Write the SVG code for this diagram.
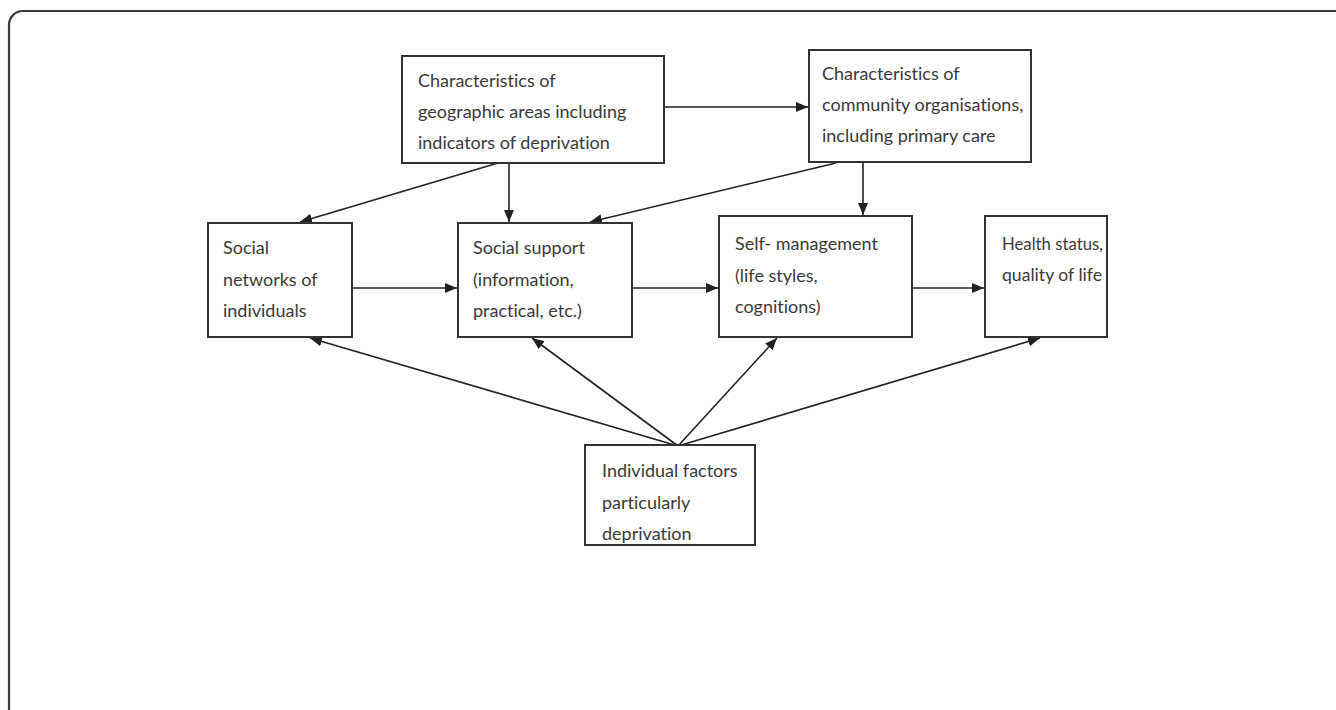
<svg xmlns="http://www.w3.org/2000/svg" width="1336" height="710" viewBox="0 0 1336 710">
  <style>
    .frame { fill: none; stroke: #3a3a3a; stroke-width: 2.2; }
    .box { fill: #fff; stroke: #333; stroke-width: 2; }
    .lbl { font-family: Lato, "Open Sans", sans-serif; font-size: 18px; fill: #3a3a3a; font-variant-ligatures: none; }
    .edge { fill: none; stroke: #222; stroke-width: 1.6; marker-end: url(#arrow); }
  </style>
  <defs>
    <marker id="arrow" viewBox="0 0 12 10" refX="12" refY="5" markerWidth="12" markerHeight="10" markerUnits="userSpaceOnUse" orient="auto">
      <path d="M0,0 L12,5 L0,10 z" fill="#222"/>
    </marker>
  </defs>

  <!-- outer rounded frame, running off the right and bottom edges -->
  <rect class="frame" x="9" y="11" width="1360" height="740" rx="14" ry="14"/>

  <g id="connectors">
    <line class="edge" x1="664" y1="107" x2="808" y2="107"/>
    <line class="edge" x1="509" y1="163" x2="509" y2="222"/>
    <line class="edge" x1="498" y1="163" x2="300" y2="222"/>
    <line class="edge" x1="863" y1="162" x2="863" y2="215"/>
    <line class="edge" x1="836" y1="163" x2="590" y2="222"/>
    <line class="edge" x1="352" y1="288" x2="457" y2="288"/>
    <line class="edge" x1="632" y1="288" x2="718" y2="288"/>
    <line class="edge" x1="912" y1="288" x2="984" y2="288"/>
    <line class="edge" x1="678" y1="446" x2="310" y2="338"/>
    <line class="edge" x1="678" y1="446" x2="532" y2="338"/>
    <line class="edge" x1="678" y1="446" x2="777" y2="338"/>
    <line class="edge" x1="678" y1="446" x2="1040" y2="338"/>
  </g>

  <g id="geographic-areas">
    <rect class="box" x="402" y="56" width="262" height="107"/>
    <text class="lbl" x="418" y="87">Characteristics of</text>
    <text class="lbl" x="418" y="118">geographic areas including</text>
    <text class="lbl" x="418" y="149">indicators of deprivation</text>
  </g>

  <g id="community-organisations">
    <rect class="box" x="809" y="50" width="222" height="112"/>
    <text class="lbl" x="822" y="80">Characteristics of</text>
    <text class="lbl" x="822" y="111">community organisations,</text>
    <text class="lbl" x="822" y="142">including primary care</text>
  </g>

  <g id="social-networks">
    <rect class="box" x="208" y="223" width="144" height="114"/>
    <text class="lbl" x="223" y="254">Social</text>
    <text class="lbl" x="223" y="286">networks of</text>
    <text class="lbl" x="223" y="317">individuals</text>
  </g>

  <g id="social-support">
    <rect class="box" x="458" y="223" width="174" height="114"/>
    <text class="lbl" x="473" y="254">Social support</text>
    <text class="lbl" x="473" y="286">(information,</text>
    <text class="lbl" x="473" y="317">practical, etc.)</text>
  </g>

  <g id="self-management">
    <rect class="box" x="719" y="216" width="193" height="121"/>
    <text class="lbl" x="735" y="250">Self- management</text>
    <text class="lbl" x="735" y="282">(life styles,</text>
    <text class="lbl" x="735" y="313">cognitions)</text>
  </g>

  <g id="health-status">
    <rect class="box" x="985" y="216" width="122" height="121"/>
    <text class="lbl" x="1002" y="250" textLength="101" lengthAdjust="spacingAndGlyphs">Health status,</text>
    <text class="lbl" x="1002" y="281" textLength="100" lengthAdjust="spacingAndGlyphs">quality of life</text>
  </g>

  <g id="individual-factors">
    <rect class="box" x="585" y="445" width="170" height="100"/>
    <text class="lbl" x="602" y="477">Individual factors</text>
    <text class="lbl" x="602" y="509">particularly</text>
    <text class="lbl" x="602" y="540">deprivation</text>
  </g>
</svg>
